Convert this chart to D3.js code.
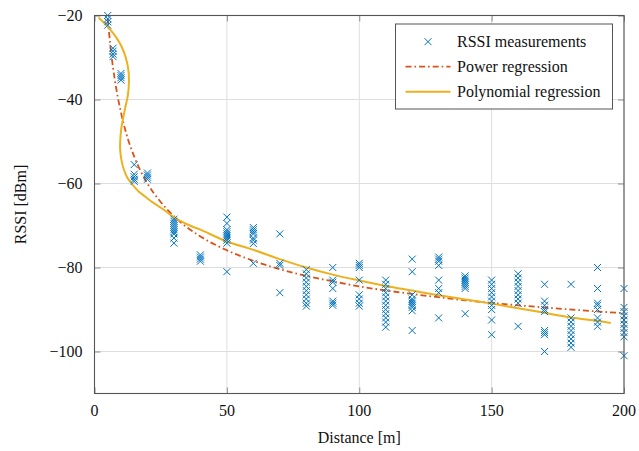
<!DOCTYPE html>
<html>
<head>
<meta charset="utf-8">
<script src="https://cdn.jsdelivr.net/npm/d3@7"></script>
<style>
  html, body { margin: 0; padding: 0; background: #fff; }
  svg { display: block; font-family: "Liberation Serif", "Times New Roman", serif; }
</style>
</head>
<body>
<svg id="chart" width="639" height="451"></svg>
<script>
// Measurement distances [m] and the RSSI samples taken at each one [dBm]
const distances = [5, 7, 10, 15, 20, 30, 40, 50, 60, 70, 80, 90, 100, 110, 120, 130, 140, 150, 160, 170, 180, 190, 200];
const rssiSamples = [
  [-20, -20.8, -21.5, -22.3],
  [-27.8, -28.5, -29.2, -29.8],
  [-33.8, -34.3, -34.8, -35.4],
  [-55.5, -57.8, -58.4, -59, -59.5],
  [-57.5, -58, -58.5, -59],
  [-68.5, -69, -69.5, -70, -70.5, -71, -71.5, -72, -73, -74.2],
  [-77, -77.5, -78, -78.5],
  [-68, -69.5, -71, -71.5, -72, -72.5, -73, -73.5, -74.2, -81],
  [-70.5, -71, -71.5, -72, -73, -73.5, -74.3, -79],
  [-72, -79, -79.5, -86],
  [-80.5, -81.5, -82.5, -83.5, -84.5, -85.5, -86.5, -87.5, -88.5, -89.2],
  [-80, -83, -83.5, -85, -88, -88.5, -89],
  [-79, -79.5, -80, -83, -86.5, -87.5, -88.5, -89.2],
  [-83, -84, -85, -86, -87, -88, -89, -90, -91, -92, -93, -94.2],
  [-78, -81, -86.5, -87.5, -88, -88.5, -89, -89.5, -90.3, -95],
  [-77.5, -78, -78.5, -79.5, -83, -85, -86, -92],
  [-82, -82.5, -83, -83.5, -84, -84.5, -85, -91],
  [-83, -84, -85, -86, -87, -88, -89, -90, -92.5, -96],
  [-81.5, -82.5, -83.5, -84.5, -85.5, -86.5, -87.5, -88.5, -94],
  [-84, -88, -89, -90, -90.5, -95, -95.5, -96, -100],
  [-84, -92, -93, -94, -95, -96, -97, -98, -99],
  [-80, -85, -88.5, -89, -90, -92, -93, -94],
  [-85, -89.5, -90.5, -91.5, -92.5, -93.5, -94.5, -95.5, -96.5, -101]
];

// Power-law regression curve (distance, RSSI)
const powerX = [5, 6, 7, 8, 10, 12, 15, 20, 25, 30, 40, 50, 60, 70, 80, 90, 100, 120, 140, 160, 180, 200];
const powerY = [-20.7, -27.2, -32.4, -36.6, -43.1, -48.1, -53.6, -60.0, -64.4, -67.8, -72.6, -75.9, -78.4, -80.4, -82.0, -83.3, -84.5, -86.3, -87.8, -89.0, -90.0, -90.9];

// Polynomial regression curve (distance, RSSI), ordered along the curve
const polyX = [1.5, 4, 6.5, 8.5, 10.3, 11.8, 12.8, 13, 12.6, 11.6, 10.8, 10.1, 9.7, 9.7, 10.2, 11, 12.3, 14, 16.5, 19.1, 22, 25.4, 30.4, 36, 40, 50, 60, 70, 80, 90, 100, 110, 120, 130, 140, 150, 160, 170, 180, 190, 195];
const polyY = [-20.5, -22, -23.8, -25.5, -27.5, -30, -33, -36, -39, -42, -44.5, -47, -50, -52, -54.5, -56.5, -58.5, -60, -61.8, -63.1, -64.5, -65.9, -68.2, -70, -71, -73.8, -75.8, -78, -80, -81.7, -83.1, -84.4, -85.5, -86.6, -87.6, -88.6, -89.7, -90.8, -91.9, -92.7, -93.2];

const xTicks = [0, 50, 100, 150, 200];
const yTicks = [-100, -80, -60, -40, -20];
const legendLabels = ["RSSI measurements", "Power regression", "Polynomial regression"];

const colors = { points: "#0072BD", power: "#D95319", poly: "#EDB120" };

const margin = { left: 94.5, right: 15, top: 15.5, bottom: 57.5 };
const W = 639, H = 451;
const svg = d3.select("#chart");

const x = d3.scaleLinear().domain([0, 200]).range([margin.left, W - margin.right]);
const y = d3.scaleLinear().domain([-110, -20]).range([H - margin.bottom, margin.top]);

const plot = svg.append("g");

// grid
plot.append("g").selectAll("line").data(xTicks).join("line")
  .attr("x1", d => x(d)).attr("x2", d => x(d))
  .attr("y1", y.range()[0]).attr("y2", y.range()[1])
  .attr("stroke", "#dedede").attr("stroke-width", 1);
plot.append("g").selectAll("line").data(yTicks).join("line")
  .attr("y1", d => y(d)).attr("y2", d => y(d))
  .attr("x1", x.range()[0]).attr("x2", x.range()[1])
  .attr("stroke", "#dedede").attr("stroke-width", 1);

// inner tick marks on all four sides
const tickLen = 6;
const tickColor = "#8c8c8c";
const axisBottom = d3.axisBottom(x).tickValues(xTicks).tickSize(-tickLen).tickFormat("");
const axisTop = d3.axisTop(x).tickValues(xTicks).tickSize(-tickLen).tickFormat("");
const axisLeft = d3.axisLeft(y).tickValues(yTicks).tickSize(-tickLen).tickFormat("");
const axisRight = d3.axisRight(y).tickValues(yTicks).tickSize(-tickLen).tickFormat("");
[[axisBottom, `translate(0,${y(-110)})`], [axisTop, `translate(0,${y(-20)})`],
 [axisLeft, `translate(${x(0)},0)`], [axisRight, `translate(${x(200)},0)`]].forEach(([ax, tr]) => {
  const g = plot.append("g").attr("transform", tr).call(ax);
  g.select(".domain").remove();
  g.selectAll(".tick line").attr("stroke", tickColor).attr("stroke-width", 1);
});

// tick labels
const fmt = d => (d < 0 ? "\u2212" + Math.abs(d) : String(d));
plot.append("g").selectAll("text").data(xTicks).join("text")
  .attr("x", d => x(d)).attr("y", y(-110) + 22)
  .attr("text-anchor", "middle").attr("font-size", 16).attr("fill", "#111")
  .text(fmt);
plot.append("g").selectAll("text").data(yTicks).join("text")
  .attr("x", x(0) - 12).attr("y", d => y(d) + 5.5)
  .attr("text-anchor", "end").attr("font-size", 16).attr("fill", "#111")
  .text(fmt);

// axis labels
svg.append("text").attr("x", (x(0) + x(200)) / 2).attr("y", 443)
  .attr("text-anchor", "middle").attr("font-size", 16).attr("fill", "#111").text("Distance [m]");
svg.append("text").attr("transform", `translate(26,${(y(-20) + y(-110)) / 2}) rotate(-90)`)
  .attr("text-anchor", "middle").attr("font-size", 16).attr("fill", "#111").text("RSSI [dBm]");

// regression curves, clipped to the axes box
svg.append("clipPath").attr("id", "box").append("rect")
  .attr("x", x(0)).attr("y", y(-20)).attr("width", x(200) - x(0)).attr("height", y(-110) - y(-20));

const powerLine = d3.line().x(d => x(d[0])).y(d => y(d[1])).curve(d3.curveMonotoneX);
plot.append("path").datum(powerX.map((d, i) => [d, powerY[i]]))
  .attr("clip-path", "url(#box)")
  .attr("d", powerLine).attr("fill", "none")
  .attr("stroke", colors.power).attr("stroke-width", 1.8)
  .attr("stroke-dasharray", "6,3,1.6,3");

const polyLine = d3.line().x(d => x(d[0])).y(d => y(d[1])).curve(d3.curveCatmullRom.alpha(0.5));
plot.append("path").datum(polyX.map((d, i) => [d, polyY[i]]))
  .attr("clip-path", "url(#box)")
  .attr("d", polyLine).attr("fill", "none")
  .attr("stroke", colors.poly).attr("stroke-width", 2);

// measurement markers
const points = [];
distances.forEach((d, i) => rssiSamples[i].forEach(v => points.push([d, v])));
const s = 3.5;
const cross = `M${-s},${-s}L${s},${s}M${-s},${s}L${s},${-s}`;
plot.append("g").selectAll("path").data(points).join("path")
  .attr("transform", d => `translate(${x(d[0])},${y(d[1])})`)
  .attr("d", cross).attr("fill", "none")
  .attr("stroke", colors.points).attr("stroke-width", 1);

// axes frame
plot.append("rect")
  .attr("x", x(0)).attr("y", y(-20)).attr("width", x(200) - x(0)).attr("height", y(-110) - y(-20))
  .attr("fill", "none").attr("stroke", "#555").attr("stroke-width", 1.1);

// legend
const lg = svg.append("g").attr("transform", "translate(395.5,24)");
lg.append("rect").attr("width", 217).attr("height", 85)
  .attr("fill", "#fff").attr("stroke", "#555").attr("stroke-width", 1);
const rowY = [17.7, 42.7, 67.7];
lg.append("path").attr("transform", `translate(32.5,${rowY[0]})`).attr("d", cross)
  .attr("fill", "none").attr("stroke", colors.points).attr("stroke-width", 1);
lg.append("line").attr("x1", 10).attr("x2", 55).attr("y1", rowY[1]).attr("y2", rowY[1])
  .attr("stroke", colors.power).attr("stroke-width", 1.8).attr("stroke-dasharray", "6,3,1.6,3");
lg.append("line").attr("x1", 10).attr("x2", 55).attr("y1", rowY[2]).attr("y2", rowY[2])
  .attr("stroke", colors.poly).attr("stroke-width", 2);
lg.selectAll("text.lab").data(legendLabels).join("text").attr("class", "lab")
  .attr("x", 61.5).attr("y", (d, i) => rowY[i] + 5.5)
  .attr("font-size", 16).attr("fill", "#111").text(d => d);
</script>
</body>
</html>
